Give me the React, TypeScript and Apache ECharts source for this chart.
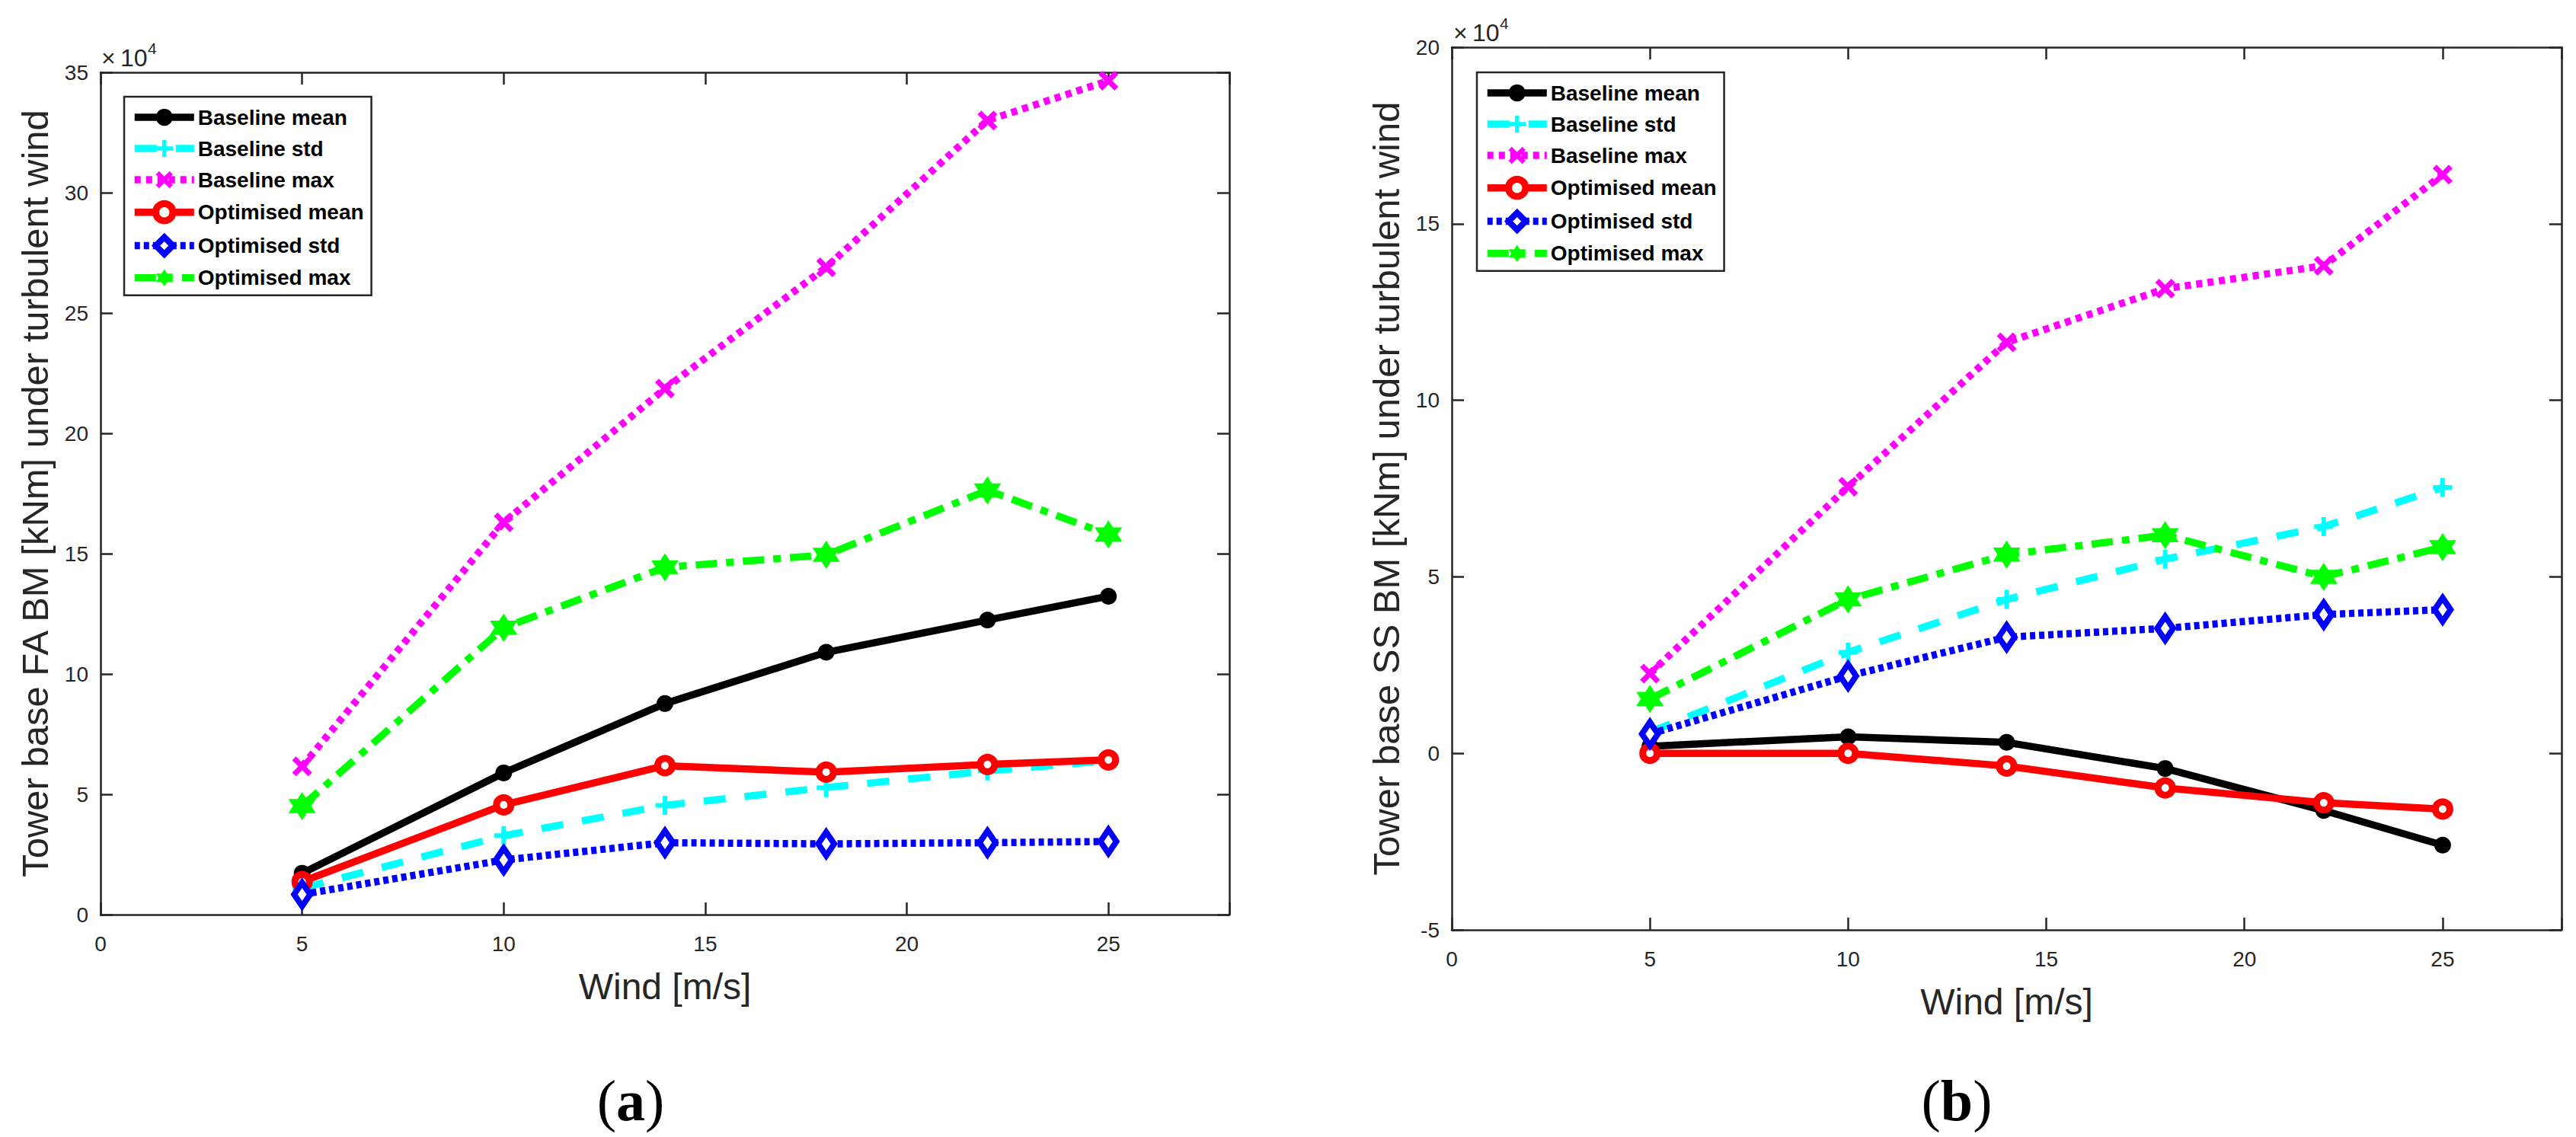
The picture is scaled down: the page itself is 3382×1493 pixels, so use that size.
import React, { useEffect, useRef } from "react";
import * as echarts from "echarts";

// ---------------- data (kNm) ----------------
const windSpeeds = [5, 10, 14, 18, 22, 25];

const seriesNames = [
  "Baseline mean",
  "Baseline std",
  "Baseline max",
  "Optimised mean",
  "Optimised std",
  "Optimised max",
];

// Panel (a): tower base fore-aft bending moment
const faBaselineMean = [17200, 58900, 87700, 109000, 122400, 132300];
const faBaselineStd = [11000, 32800, 45400, 52800, 59700, 64000];
const faBaselineMax = [61600, 163000, 218600, 269000, 330000, 346500];
const faOptimisedMean = [13700, 45600, 61900, 59200, 62400, 64300];
const faOptimisedStd = [8400, 22700, 29900, 29400, 29900, 30400];
const faOptimisedMax = [45100, 119200, 144300, 149500, 176300, 158000];

// Panel (b): tower base side-side bending moment
const ssBaselineMean = [2000, 4700, 3100, -4300, -16200, -26000];
const ssBaselineStd = [6000, 28600, 43600, 55000, 64200, 75300];
const ssBaselineMax = [22600, 75500, 116400, 131600, 138100, 163900];
const ssOptimisedMean = [0, 0, -3600, -9800, -14000, -15800];
const ssOptimisedStd = [5500, 21900, 32900, 35400, 39300, 40700];
const ssOptimisedMax = [15400, 43600, 56300, 61800, 50000, 58400];

const faData = [faBaselineMean, faBaselineStd, faBaselineMax, faOptimisedMean, faOptimisedStd, faOptimisedMax];
const ssData = [ssBaselineMean, ssBaselineStd, ssBaselineMax, ssOptimisedMean, ssOptimisedStd, ssOptimisedMax];

const xTicks = [0, 5, 10, 15, 20, 25];

// ---------------- styles ----------------
const FONT = '"Liberation Sans", Arial, Helvetica, sans-serif';
const SERIF = '"Liberation Serif", "Times New Roman", serif';
const AXIS_COLOR = "#262626";
const LINE_WIDTH = 9.5;

const PLUS_PATH =
  "path://M-1.2,-5L1.2,-5L1.2,-1.2L5,-1.2L5,1.2L1.2,1.2L1.2,5L-1.2,5L-1.2,1.2L-5,1.2L-5,-1.2L-1.2,-1.2Z";
const CROSS_PATH =
  "path://M-5,-3.1L-3.1,-5L0,-1.9L3.1,-5L5,-3.1L1.9,0L5,3.1L3.1,5L0,1.9L-3.1,5L-5,3.1L-1.9,0Z";
const HEXAGRAM_PATH =
  "path://M0,-10L2.887,-5L8.66,-5L5.774,0L8.66,5L2.887,5L0,10L-2.887,5L-8.66,5L-5.774,0L-8.66,-5L-2.887,-5Z";

type SStyle = {
  line: string;
  type: any;
  symbol: string;
  size: any;
  fill: string;
  border: string;
  borderWidth: number;
};

const seriesStyles: SStyle[] = [
  { line: "#000000", type: "solid", symbol: "circle", size: 22, fill: "#000000", border: "#000000", borderWidth: 0 },
  { line: "#00FFFF", type: [29, 25], symbol: PLUS_PATH, size: 25, fill: "#00FFFF", border: "#00FFFF", borderWidth: 0 },
  { line: "#FF00FF", type: [8, 7], symbol: CROSS_PATH, size: 26, fill: "#FF00FF", border: "#FF00FF", borderWidth: 0 },
  { line: "#FF0000", type: "solid", symbol: "circle", size: 19, fill: "#FFFFFF", border: "#FF0000", borderWidth: 9 },
  { line: "#0000FF", type: [7, 5], symbol: "diamond", size: [21, 31], fill: "#FFFFFF", border: "#0000FF", borderWidth: 8 },
  { line: "#00FF00", type: [28, 12, 10, 12], symbol: HEXAGRAM_PATH, size: [36, 37], fill: "#00FF00", border: "#00FF00", borderWidth: 0 },
];

function buildSeries(data: number[][], axisIndex: number) {
  return seriesNames.map((name, i) => {
    const st = seriesStyles[i];
    return {
      type: "line",
      name,
      xAxisIndex: axisIndex,
      yAxisIndex: axisIndex,
      data: windSpeeds.map((w, k) => [w, data[i][k]]),
      showSymbol: true,
      showAllSymbol: true,
      symbol: st.symbol,
      symbolSize: st.size,
      lineStyle: { color: st.line, width: LINE_WIDTH, type: st.type, cap: "butt", join: "round" },
      itemStyle: { color: st.fill, borderColor: st.border, borderWidth: st.borderWidth },
      emphasis: { disabled: true },
      z: 2 + i,
    };
  });
}

const tickStyle = { color: AXIS_COLOR, width: 2.5 };

function makeXAxes(gridIndex: number) {
  const base = {
    type: "value",
    gridIndex,
    min: 0,
    max: 28,
    interval: 5,
    splitLine: { show: false },
    axisLine: { show: true, onZero: false, lineStyle: tickStyle },
    axisTick: { show: true, inside: true, length: 16, lineStyle: tickStyle },
  };
  return [
    {
      ...base,
      position: "bottom",
      name: "Wind [m/s]",
      nameLocation: "middle",
      nameGap: 70,
      nameTextStyle: { fontFamily: FONT, fontSize: 48, color: AXIS_COLOR },
      axisLabel: {
        show: true,
        margin: 24,
        fontFamily: FONT,
        fontSize: 28,
        color: AXIS_COLOR,
        formatter: (v: number) => (xTicks.indexOf(v) >= 0 ? String(v) : ""),
      },
    },
    { ...base, position: "top", axisLabel: { show: false } },
  ];
}

function makeYAxes(gridIndex: number, min: number, max: number, title: string) {
  const base = {
    type: "value",
    gridIndex,
    min,
    max,
    interval: 50000,
    splitLine: { show: false },
    axisLine: { show: true, onZero: false, lineStyle: tickStyle },
    axisTick: { show: true, inside: true, length: 16, lineStyle: tickStyle },
  };
  return [
    {
      ...base,
      position: "left",
      name: title,
      nameLocation: "middle",
      nameGap: 62,
      nameTextStyle: { fontFamily: FONT, fontSize: 49, color: AXIS_COLOR },
      axisLabel: {
        show: true,
        margin: 16,
        fontFamily: FONT,
        fontSize: 28,
        color: AXIS_COLOR,
        formatter: (v: number) => String(v / 10000),
      },
    },
    { ...base, position: "right", axisLabel: { show: false } },
  ];
}

function makeLegend(left: number, top: number) {
  return {
    show: true,
    orient: "vertical",
    left,
    top,
    itemWidth: 78,
    itemHeight: 28,
    itemGap: 13,
    padding: [13, 10, 9, 9],
    borderColor: AXIS_COLOR,
    borderWidth: 2.5,
    backgroundColor: "#FFFFFF",
    selectedMode: false,
    textStyle: { fontFamily: FONT, fontSize: 28, fontWeight: "bold", color: "#000000", lineHeight: 28 },
    lineStyle: { width: "inherit", type: "inherit" },
    itemStyle: { borderWidth: "inherit" },
    data: seriesNames,
  };
}

function exponentLabel(x: number, yMid: number) {
  return [
    { type: "text", style: { text: "×", x, y: yMid, fill: AXIS_COLOR, fontFamily: FONT, fontSize: 32, align: "left", verticalAlign: "middle" } },
    { type: "text", style: { text: "10", x: x + 25, y: yMid, fill: AXIS_COLOR, fontFamily: FONT, fontSize: 32, align: "left", verticalAlign: "middle" } },
    { type: "text", style: { text: "4", x: x + 61, y: yMid - 13, fill: AXIS_COLOR, fontFamily: FONT, fontSize: 21, align: "left", verticalAlign: "middle" } },
  ];
}

function panelLabel(letter: string, x: number) {
  return {
    type: "text",
    style: {
      text: "({b|" + letter + "})",
      x,
      y: 1445,
      fill: "#000000",
      fontFamily: SERIF,
      fontSize: 76,
      align: "center",
      verticalAlign: "middle",
      rich: { b: { fontFamily: SERIF, fontSize: 76, fontWeight: "bold", fill: "#000000" } },
    },
  };
}

export default function App() {
  const ref = useRef<HTMLDivElement>(null);

  useEffect(() => {
    if (!ref.current) return;
    const chart = echarts.init(ref.current, undefined, { renderer: "svg" });

    const [xa0, xa1] = makeXAxes(0);
    const [xb0, xb1] = makeXAxes(1);
    const [ya0, ya1] = makeYAxes(0, 0, 350000, "Tower base FA BM [kNm] under turbulent wind");
    const [yb0, yb1] = makeYAxes(1, -50000, 200000, "Tower base SS BM [kNm] under turbulent wind");

    const option: any = {
      animation: false,
      backgroundColor: "#FFFFFF",
      grid: [
        { left: 132, top: 95, width: 1482, height: 1106, containLabel: false },
        { left: 1906, top: 62, width: 1457, height: 1159, containLabel: false },
      ],
      // order: 0 = a-bottom, 1 = b-bottom, 2 = a-top, 3 = b-top
      xAxis: [xa0, xb0, xa1, xb1],
      yAxis: [ya0, yb0, ya1, yb1],
      legend: [makeLegend(163, 127), makeLegend(1939, 95)],
      series: [...buildSeries(faData, 0), ...buildSeries(ssData, 1)],
      graphic: [
        ...exponentLabel(133, 76),
        ...exponentLabel(1908, 43),
        panelLabel("a", 828),
        panelLabel("b", 2569),
      ],
    };

    chart.setOption(option);
    return () => chart.dispose();
  }, []);

  return (
    <div
      ref={ref}
      style={{ position: "absolute", left: 0, top: 0, width: 3382, height: 1493, background: "#FFFFFF" }}
    />
  );
}
